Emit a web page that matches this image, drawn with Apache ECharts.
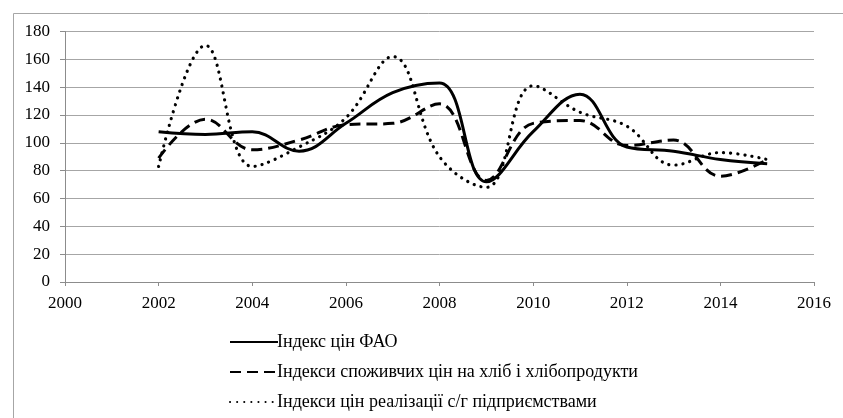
<!DOCTYPE html>
<html>
<head>
<meta charset="utf-8">
<script src="https://cdn.jsdelivr.net/npm/echarts@6/dist/echarts.min.js"></script>
<style>
    html, body { margin: 0; padding: 0; background: #fff; }
    #price_chart { width: 843px; height: 418px; }
</style>
</head>
<body>
<div id="price_chart"></div>
<script>

// Chart data
// ------------------------------

var years = [2002, 2003, 2004, 2005, 2006, 2007, 2008, 2009, 2010, 2011, 2012, 2013, 2014, 2015];

var faoIndex = [108, 106, 108, 94, 114, 136, 143, 72, 108, 135, 97, 94, 88, 85];
var breadIndex = [89, 117, 95, 102, 113, 114, 128, 73, 114, 116, 98, 102, 76, 88];
var farmIndex = [83, 170, 83, 97, 118, 162, 90, 68, 141, 122, 112, 84, 93, 88];

var seriesNames = [
    'Індекс цін ФАО',
    'Індекси споживчих цін на хліб і хлібопродукти',
    'Індекси цін реалізації с/г підприємствами'
];


// Setup chart
// ------------------------------

var chart_element = document.getElementById('price_chart');
var price_chart = echarts.init(chart_element);

var toPairs = function(values) {
    return years.map(function(y, i) {
        return [y, values[i]];
    });
};

var serifFont = 'Liberation Serif';

var lineSeries = function(name, values, width, type, cap) {
    return {
        name: name,
        type: 'line',
        smooth: 0.4,
        symbol: 'none',
        lineStyle: {
            color: '#000',
            width: width,
            type: type,
            cap: cap || 'butt'
        },
        itemStyle: { color: '#000' },
        data: toPairs(values)
    };
};

price_chart.setOption({
    animation: false,
    textStyle: {
        fontFamily: serifFont
    },

    // Outer frame
    graphic: [{
        type: 'rect',
        left: 11,
        top: 11,
        shape: { width: 845, height: 420 },
        style: { fill: 'none', stroke: '#a6a6a6', lineWidth: 1 }
    }],

    grid: {
        left: 65,
        right: 29,
        top: 31.5,
        bottom: 136
    },

    legend: {
        orient: 'vertical',
        left: 224,
        top: 328,
        height: 90,
        itemWidth: 48,
        itemHeight: 14,
        itemGap: 12,
        itemStyle: { opacity: 0 },
        textStyle: {
            fontFamily: serifFont,
            fontSize: 18,
            lineHeight: 18,
            color: '#000',
            padding: [0, 0, 0, -6]
        },
        data: seriesNames
    },

    xAxis: {
        type: 'value',
        min: 2000,
        max: 2016,
        interval: 2,
        axisLine: { lineStyle: { color: '#8c8c8c' } },
        axisTick: { show: true, length: 4, lineStyle: { color: '#8c8c8c' } },
        axisLabel: {
            color: '#000',
            fontSize: 17,
            fontFamily: serifFont,
            margin: 13,
            formatter: function(v) { return String(v); }
        },
        splitLine: { show: false }
    },

    yAxis: {
        type: 'value',
        min: 0,
        max: 180,
        interval: 20,
        axisLine: { show: true, lineStyle: { color: '#8c8c8c' } },
        axisTick: { show: true, length: 5, lineStyle: { color: '#8c8c8c' } },
        axisLabel: {
            color: '#000',
            fontSize: 17,
            fontFamily: serifFont,
            margin: 15
        },
        splitLine: { lineStyle: { color: '#a6a6a6', width: 1 } }
    },

    series: [
        lineSeries(seriesNames[0], faoIndex, 3, 'solid'),
        lineSeries(seriesNames[1], breadIndex, 3, [11, 6]),
        lineSeries(seriesNames[2], farmIndex, 3.2, [0.1, 7], 'round')
    ]
});

</script>
</body>
</html>
